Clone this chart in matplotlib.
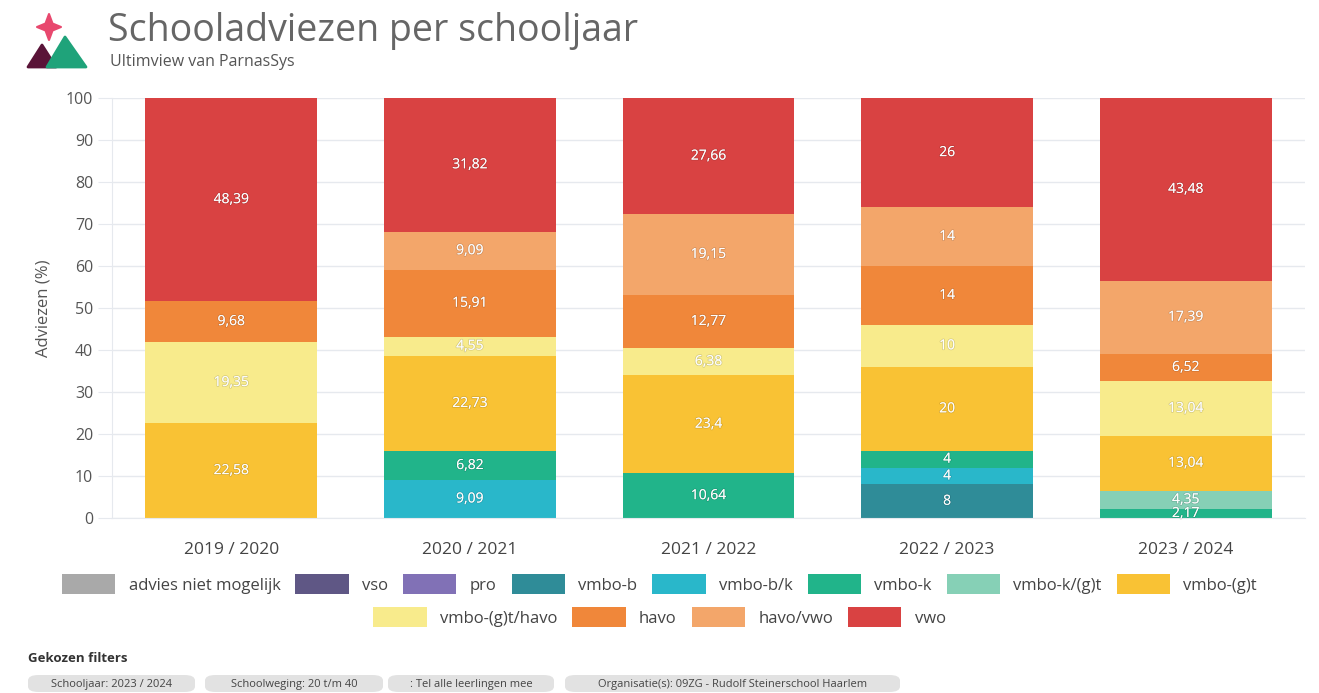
import matplotlib
matplotlib.use("Agg")
from matplotlib import pyplot as plt
from matplotlib.patches import Polygon, FancyBboxPatch, Patch
import matplotlib.patheffects as pe
import numpy as np

plt.rcParams['font.family'] = ['Open Sans', 'DejaVu Sans']

# schooljaren
years = ["2019 / 2020", "2020 / 2021", "2021 / 2022", "2022 / 2023", "2023 / 2024"]

# adviezen in procenten per niveau
advies_niet_mogelijk = [0, 0, 0, 0, 0]
vso = [0, 0, 0, 0, 0]
pro = [0, 0, 0, 0, 0]
vmbo_b = [0, 0, 0, 8, 0]
vmbo_bk = [0, 9.09, 0, 4, 0]
vmbo_k = [0, 6.82, 10.64, 4, 2.17]
vmbo_k_gt = [0, 0, 0, 0, 4.35]
vmbo_gt = [22.58, 22.73, 23.4, 20, 13.04]
vmbo_gt_havo = [19.35, 4.55, 6.38, 10, 13.04]
havo = [9.68, 15.91, 12.77, 14, 6.52]
havo_vwo = [0, 9.09, 19.15, 14, 17.39]
vwo = [48.39, 31.82, 27.66, 26, 43.48]

names = ["advies niet mogelijk", "vso", "pro", "vmbo-b", "vmbo-b/k", "vmbo-k",
         "vmbo-k/(g)t", "vmbo-(g)t", "vmbo-(g)t/havo", "havo", "havo/vwo", "vwo"]
series = [advies_niet_mogelijk, vso, pro, vmbo_b, vmbo_bk, vmbo_k,
          vmbo_k_gt, vmbo_gt, vmbo_gt_havo, havo, havo_vwo, vwo]
colors = ["#a9a9a9", "#5f5785", "#8171b6", "#2f8c98", "#29b7ca", "#21b48a",
          "#86d0b6", "#f9c234", "#f8eb8c", "#f0873a", "#f3a66a", "#d94242"]

fig = plt.figure(figsize=(13.19, 6.93), dpi=100)
ax = fig.add_axes([0.0849, 0.2525, 0.9045, 0.6061])

x = np.arange(len(years))
bottom = np.zeros(len(years))
for name, vals, col in zip(names, series, colors):
    vals = np.array(vals, dtype=float)
    ax.bar(x, vals, width=0.72, bottom=bottom, color=col, label=name, zorder=2)
    for xi, v, b in zip(x, vals, bottom):
        if v > 0:
            txt = f"{v:g}".replace(".", ",")
            ax.text(xi, b + v / 2, txt, ha="center", va="center", fontsize=10,
                    color="white", zorder=3,
                    path_effects=[pe.withStroke(linewidth=1.2, foreground=(0, 0, 0, 0.12))])
    bottom += vals

ax.set_xlim(-0.5, len(years) - 0.5)
ax.set_ylim(0, 100)
ax.set_yticks(range(0, 101, 10))
ax.set_xticks(x)
ax.set_xticklabels(years, fontsize=12.5, color="#444444")
ax.tick_params(axis="y", labelsize=11.5, labelcolor="#555555", color="#e6e9ee", length=10)
ax.tick_params(axis="x", length=0, pad=17)
ax.grid(axis="y", color="#e6e9ee", linewidth=1, zorder=0)
for s in ["top", "right"]:
    ax.spines[s].set_visible(False)
ax.spines["left"].set_color("#e6e9ee")
ax.spines["bottom"].set_color("#e6e9ee")
ax.set_ylabel("Adviezen (%)", fontsize=12, color="#555555", labelpad=10)

# legenda in twee rijen
handles = [Patch(facecolor=c) for c in colors]
leg_kw = dict(frameon=False, fontsize=12, handlelength=3.2, handleheight=1.4,
              handletextpad=0.8, columnspacing=0.9, labelcolor="#444444")
fig.legend(handles[:8], names[:8], ncol=8, loc="center",
           bbox_to_anchor=(0.5, 1 - 584 / 693), **leg_kw)
fig.legend(handles[8:], names[8:], ncol=4, loc="center",
           bbox_to_anchor=(0.5, 1 - 617 / 693), **leg_kw)

# titel
fig.text(108 / 1319, 1 - 31 / 693, "Schooladviezen per schooljaar", fontsize=27,
         color="#666666", va="center", ha="left")
fig.text(110 / 1319, 1 - 62 / 693, "Ultimview van ParnasSys", fontsize=11.5,
         color="#555555", va="center", ha="left")

# logo
lax = fig.add_axes([0, 1 - 80 / 693, 100 / 1319, 80 / 693])
lax.set_xlim(0, 100)
lax.set_ylim(80, 0)
lax.axis("off")
lax.add_patch(Polygon([[28, 67], [42, 45], [56, 67]], closed=True, color="#5a1438",
                      joinstyle="round", linewidth=2))
lax.add_patch(Polygon([[47, 67], [65, 37], [86, 67]], closed=True, color="#1fa37a",
                      joinstyle="round", linewidth=2))
star = [[49, 14], [52.5, 23.5], [61, 27], [52.5, 30.5], [49, 40], [45.5, 30.5], [37, 27], [45.5, 23.5]]
lax.add_patch(Polygon(star, closed=True, color="#e8486e", joinstyle="round", linewidth=1.5))

# gekozen filters
fig.text(28 / 1319, 1 - 658 / 693, "Gekozen filters", fontsize=9.5, fontweight="bold",
         color="#333333", va="center")
chips = ["Schooljaar: 2023 / 2024", "Schoolweging: 20 t/m 40", ": Tel alle leerlingen mee",
         "Organisatie(s): 09ZG - Rudolf Steinerschool Haarlem"]
chip_x = [28, 205, 388, 565]
chip_w = [167, 178, 166, 335]
for label, cx, cw in zip(chips, chip_x, chip_w):
    box = FancyBboxPatch((cx / 1319, 1 - 692 / 693), cw / 1319, 17 / 693,
                         boxstyle="round,pad=0,rounding_size=0.008",
                         transform=fig.transFigure, facecolor="#e2e2e2",
                         edgecolor="none")
    fig.patches.append(box)
    fig.text((cx + cw / 2) / 1319, 1 - 684 / 693, label, fontsize=8, color="#444444",
             ha="center", va="center")

fig.savefig("out.png", dpi=100)
